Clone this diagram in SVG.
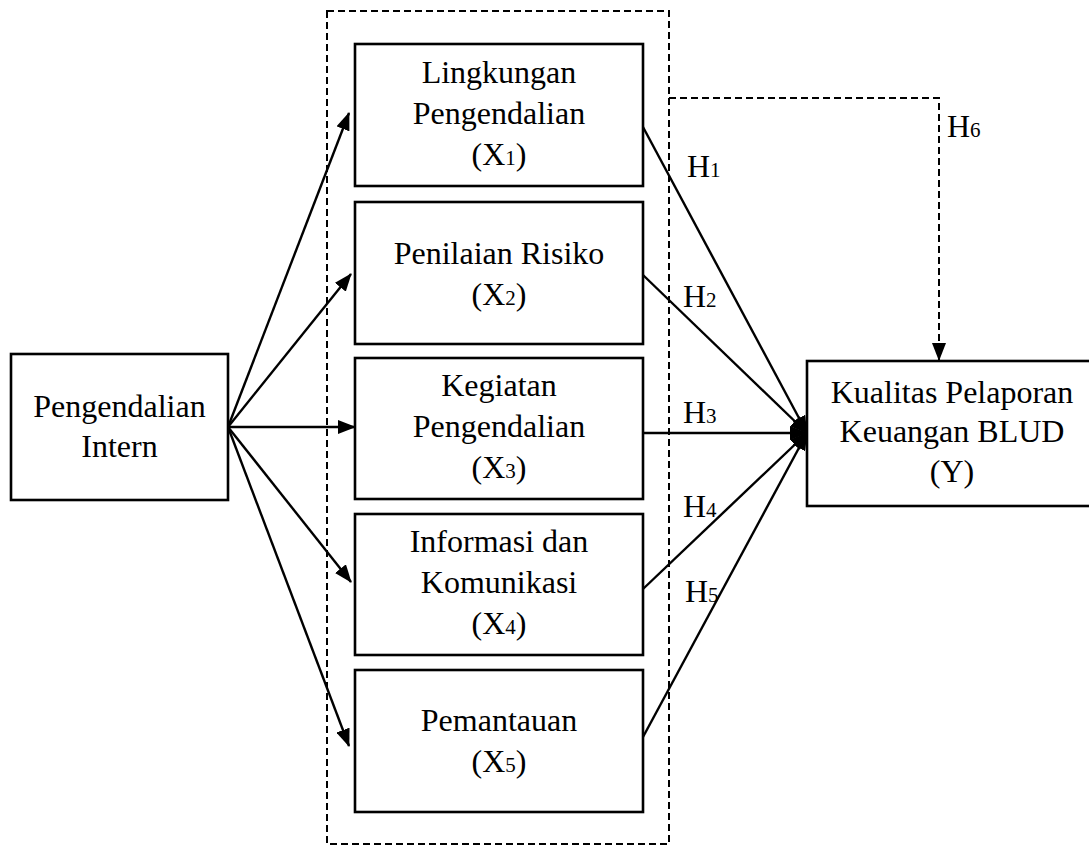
<svg xmlns="http://www.w3.org/2000/svg" width="1089" height="851" viewBox="0 0 1089 851">
<style>
  .box { fill: #fff; stroke: #000; stroke-width: 2.6; }
  .t { font-family: "Liberation Serif", "Times New Roman", serif; font-size: 32px; fill: #000; text-anchor: middle; }
  .h { font-family: "Liberation Serif", "Times New Roman", serif; font-size: 32px; fill: #000; }
  .sub { font-size: 21px; }
  .ln { stroke: #000; stroke-width: 2.4; fill: none; }
  .dash { stroke: #000; stroke-width: 2; fill: none; stroke-dasharray: 7 4; }
</style>
<defs>
  <marker id="arr" markerUnits="userSpaceOnUse" markerWidth="18" markerHeight="14" refX="17" refY="7" orient="auto">
    <path d="M0,0 L18,7 L0,14 z" fill="#000" stroke="none"/>
  </marker>
</defs>
<rect width="1089" height="851" fill="#fff"/>

<g id="group-dashed">
  <rect class="dash" x="327" y="11" width="342" height="833"/>
</g>

<g id="connectors">
  <line class="ln" x1="228" y1="427" x2="349" y2="113" marker-end="url(#arr)"/>
  <line class="ln" x1="228" y1="427" x2="351" y2="274" marker-end="url(#arr)"/>
  <line class="ln" x1="228" y1="427" x2="355" y2="427" marker-end="url(#arr)"/>
  <line class="ln" x1="228" y1="427" x2="351" y2="582" marker-end="url(#arr)"/>
  <line class="ln" x1="228" y1="427" x2="349" y2="746" marker-end="url(#arr)"/>
  <line class="ln" x1="643" y1="127" x2="807" y2="433" marker-end="url(#arr)"/>
  <line class="ln" x1="643" y1="275" x2="807" y2="433" marker-end="url(#arr)"/>
  <line class="ln" x1="643" y1="433" x2="807" y2="433" marker-end="url(#arr)"/>
  <line class="ln" x1="643" y1="589" x2="807" y2="433" marker-end="url(#arr)"/>
  <line class="ln" x1="643" y1="737" x2="807" y2="433" marker-end="url(#arr)"/>
  <path class="dash" d="M669,98 H939 V360" marker-end="url(#arr)"/>
</g>

<g id="labels">
  <text class="h" x="687" y="177">H<tspan class="sub">1</tspan></text>
  <text class="h" x="683" y="307">H<tspan class="sub">2</tspan></text>
  <text class="h" x="683" y="423">H<tspan class="sub">3</tspan></text>
  <text class="h" x="683" y="517">H<tspan class="sub">4</tspan></text>
  <text class="h" x="685" y="602">H<tspan class="sub">5</tspan></text>
  <text class="h" x="947" y="137">H<tspan class="sub">6</tspan></text>
</g>

<g id="node-intern">
  <rect class="box" x="11" y="354" width="217" height="146"/>
  <text class="t" x="119.5" y="417">Pengendalian</text>
  <text class="t" x="119.5" y="457">Intern</text>
</g>

<g id="node-x1">
  <rect class="box" x="355" y="44" width="288" height="142"/>
  <text class="t" x="499" y="83">Lingkungan</text>
  <text class="t" x="499" y="124">Pengendalian</text>
  <text class="t" x="499" y="165">(X<tspan class="sub">1</tspan>)</text>
</g>

<g id="node-x2">
  <rect class="box" x="355" y="202" width="288" height="142"/>
  <text class="t" x="499" y="264">Penilaian Risiko</text>
  <text class="t" x="499" y="305">(X<tspan class="sub">2</tspan>)</text>
</g>

<g id="node-x3">
  <rect class="box" x="355" y="358" width="288" height="141"/>
  <text class="t" x="499" y="396">Kegiatan</text>
  <text class="t" x="499" y="437">Pengendalian</text>
  <text class="t" x="499" y="478">(X<tspan class="sub">3</tspan>)</text>
</g>

<g id="node-x4">
  <rect class="box" x="355" y="514" width="288" height="141"/>
  <text class="t" x="499" y="552">Informasi dan</text>
  <text class="t" x="499" y="593">Komunikasi</text>
  <text class="t" x="499" y="634">(X<tspan class="sub">4</tspan>)</text>
</g>

<g id="node-x5">
  <rect class="box" x="355" y="670" width="288" height="142"/>
  <text class="t" x="499" y="731">Pemantauan</text>
  <text class="t" x="499" y="772">(X<tspan class="sub">5</tspan>)</text>
</g>

<g id="node-y">
  <rect class="box" x="807" y="361" width="290" height="145"/>
  <text class="t" x="952" y="403">Kualitas Pelaporan</text>
  <text class="t" x="952" y="442">Keuangan BLUD</text>
  <text class="t" x="952" y="482">(Y)</text>
</g>
</svg>
